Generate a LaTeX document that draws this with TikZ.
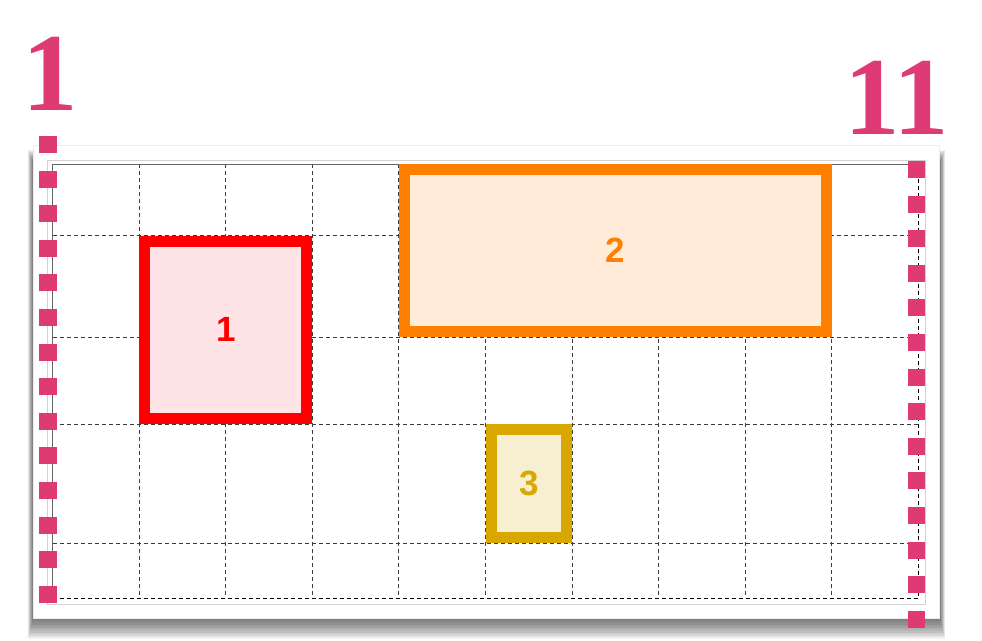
\documentclass[tikz,border=0pt]{standalone}
\usepackage{fontspec}
\setmainfont{Liberation Serif}
\newfontfamily\labelfont{Liberation Sans}
\definecolor{markpink}{RGB}{222,58,116}
\definecolor{boxred}{RGB}{255,0,0}
\definecolor{fillred}{RGB}{255,228,231}
\definecolor{boxorange}{RGB}{255,128,0}
\definecolor{fillorange}{RGB}{255,235,216}
\definecolor{boxgold}{RGB}{216,168,0}
\definecolor{fillgold}{RGB}{247,239,208}
\definecolor{gridgray}{RGB}{60,60,60}
\begin{document}
\begin{tikzpicture}[x=1pt,y=-1pt,
  area/.style={line width=11pt,inner sep=0pt,font=\labelfont\bfseries\fontsize{35}{35}\selectfont},
  gridline/.style={draw=gridgray,line width=0.9pt,dash pattern=on 4pt off 3pt},
  marker/.style={draw=markpink,line width=17.5pt,dash pattern=on 17pt off 17.6pt},
  tag/.style={text=markpink,anchor=base,font=\bfseries\fontsize{111}{111}\selectfont,inner sep=0pt}]
  \useasboundingbox (0,0) rectangle (982,640);
  \foreach \i in {0,...,11}
    \fill[black,opacity=0.055] (28+0.4*\i,150+\i) rectangle (945-0.4*\i,639-1.6*\i);
  \fill[white] (33,145) rectangle (939,618);
  \draw[gray!15,line width=0.8pt] (33,145) rectangle (939,618);
  \draw[gray!35,line width=1pt] (47,160) rectangle (925,604);
  \foreach \i in {1,...,9}
    \draw[gridline] (52.7+86.56*\i,164.3) -- (52.7+86.56*\i,598.3);
  \foreach \y in {235.7,337,424,543}
    \draw[gridline] (52.7,\y) -- (918.3,\y);
  \draw[gridline,draw=black,line width=1.4pt] (52.7,598.3) -- (918.3,598.3) -- (918.3,164.3);
  \draw[gray!80!black,line width=1.2pt] (52.7,598.3) -- (52.7,164.3) -- (918.3,164.3);
  \node[area,draw=boxred,fill=fillred,text=boxred,minimum width=162.1pt,minimum height=177.3pt] (b1) at (225.85,329.85) {1};
  \node[area,draw=boxorange,fill=fillorange,text=boxorange,minimum width=421.8pt,minimum height=161.7pt] (b2) at (615.4,250.65) {2};
  \node[area,draw=boxgold,fill=fillgold,text=boxgold,minimum width=75.6pt,minimum height=108pt] (b3) at (528.8,483.5) {3};
  \coordinate (firsttop) at (48,136);
  \coordinate (firstbot) at (48,603);
  \coordinate (lasttop) at (916.5,161);
  \coordinate (lastbot) at (916.5,628);
  \draw[marker] (firsttop) -- (firstbot);
  \draw[marker] (lasttop) -- (lastbot);
  \node[tag] (first) at (50,110) {1};
  \node[tag] (last) at (896.5,134) {11};
\end{tikzpicture}
\end{document}
